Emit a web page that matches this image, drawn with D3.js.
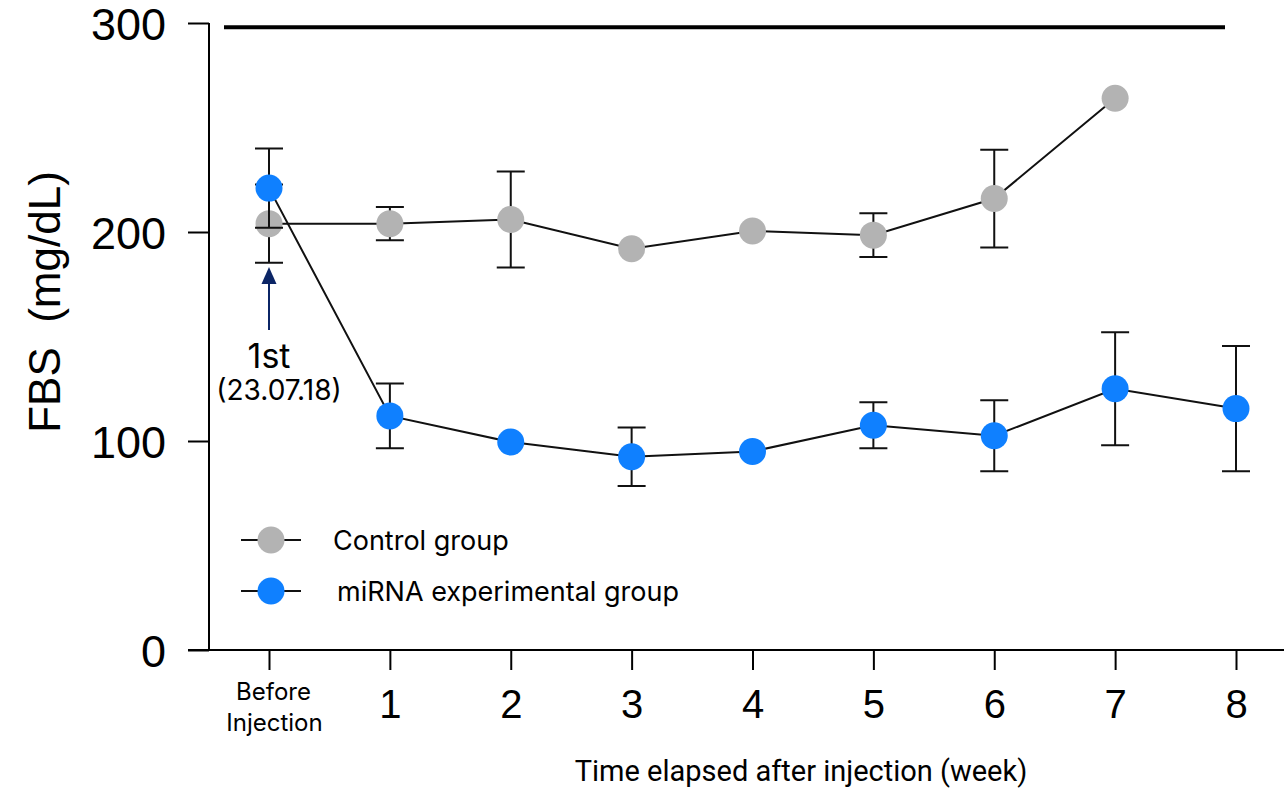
<!DOCTYPE html>
<html>
<head>
<meta charset="utf-8">
<script src="https://cdn.jsdelivr.net/npm/d3@7"></script>
<style>
  body { margin: 0; background: #fff; }
</style>
</head>
<body>
<div id="chart"></div>
<script>
// chart data
var weeks = ["Before", "1", "2", "3", "4", "5", "6", "7", "8"];
var controlMean = [204, 204, 206, 192, 200.5, 198.5, 216, 264, null];
var controlSD   = [18.7, 8, 23, 0, 0, 10.5, 23.4, 0, null];
var mirnaMean   = [221, 112, 99.5, 92.5, 95, 107.5, 102.5, 125, 115.5];
var mirnaSD     = [19, 15.5, 0, 14, 0, 11, 17, 27, 30];
var yTicks = [0, 100, 200, 300];
var seriesNames = ["Control group", "miRNA experimental group"];
var seriesColors = ["#b3b3b3", "#0f80ff"];

function init(){

    var w = 1284;
    var h = 788;

    var svg = d3.select("#chart")
        .append("svg")
        .attr("width", w)
        .attr("height", h);

    // scales
    var x = d3.scalePoint()
        .domain(weeks)
        .range([269, 1236]);

    var y = d3.scaleLinear()
        .domain([0, 300])
        .range([650, 23]);

    // y axis
    var yAxis = svg.append("g")
        .attr("transform", "translate(209,0)")
        .call(d3.axisLeft(y).tickValues(yTicks).tickSize(21).tickPadding(22));
    yAxis.select(".domain").attr("d", "M0," + y(300) + "V" + y(0)).attr("stroke-width", 2);
    yAxis.selectAll(".tick line").attr("stroke-width", 2);
    yAxis.selectAll(".tick text")
        .attr("font-family", "Liberation Sans, Arial, sans-serif")
        .attr("font-size", "45px")
        .attr("fill", "#000")
        .attr("dy", "0.36em");

    // x axis
    var xAxis = svg.append("g")
        .attr("transform", "translate(0,650)")
        .call(d3.axisBottom(x).tickSize(20).tickPadding(12));
    xAxis.select(".domain").attr("d", "M188,0H1284").attr("stroke-width", 2);
    xAxis.selectAll(".tick line").attr("stroke-width", 2);
    xAxis.selectAll(".tick text")
        .attr("font-family", "Liberation Sans, Arial, sans-serif")
        .attr("font-size", "40px")
        .attr("fill", "#000")
        .attr("dy", "0.9em");

    // first tick gets a two-line label
    var firstLabel = xAxis.selectAll(".tick text").filter(function(d){ return d === "Before"; });
    firstLabel.text(null)
        .attr("font-family", "Inter, Roboto, sans-serif")
        .attr("font-size", "24px")
        .attr("dy", null)
        .attr("y", 50);
    firstLabel.append("tspan").attr("x", 4).attr("dy", 0).text("Before");
    firstLabel.append("tspan").attr("x", 5).attr("dy", 31).text("Injection");

    // thick line across the top
    svg.append("line")
        .attr("x1", 224)
        .attr("x2", 1225)
        .attr("y1", y(298))
        .attr("y2", y(298))
        .attr("stroke", "#000")
        .attr("stroke-width", 4);

    // axis titles
    svg.append("text")
        .attr("transform", "translate(60,302) rotate(-90)")
        .attr("text-anchor", "middle")
        .attr("font-family", "Liberation Sans, Arial, sans-serif")
        .attr("font-size", "44px")
        .attr("fill", "#000")
        .attr("xml:space", "preserve")
        .text("FBS  (mg/dL)");

    svg.append("text")
        .attr("x", 801)
        .attr("y", 781)
        .attr("text-anchor", "middle")
        .attr("font-family", "Roboto, sans-serif")
        .attr("font-size", "29px")
        .attr("fill", "#000")
        .text("Time elapsed after injection (week)");

    // annotation arrow for first injection
    var ax = x("Before");
    svg.append("line")
        .attr("x1", ax)
        .attr("x2", ax)
        .attr("y1", 330)
        .attr("y2", 282)
        .attr("stroke", "#0b2566")
        .attr("stroke-width", 2);
    svg.append("path")
        .attr("d", "M" + (ax - 7.5) + ",284L" + ax + ",267L" + (ax + 7.5) + ",284Z")
        .attr("fill", "#0b2566");

    svg.append("text")
        .attr("x", ax)
        .attr("y", 368)
        .attr("text-anchor", "middle")
        .attr("font-family", "Inter, Roboto, sans-serif")
        .attr("font-size", "34px")
        .attr("fill", "#000")
        .text("1st");
    svg.append("text")
        .attr("x", 279)
        .attr("y", 400)
        .attr("text-anchor", "middle")
        .attr("font-family", "Inter, Roboto, sans-serif")
        .attr("font-size", "28px")
        .attr("fill", "#000")
        .text("(23.07.18)");

    // series
    var series = [
        { name: seriesNames[0], color: seriesColors[0], mean: controlMean, sd: controlSD },
        { name: seriesNames[1], color: seriesColors[1], mean: mirnaMean, sd: mirnaSD }
    ];

    series.forEach(function(s){
        var pts = weeks.map(function(wk, i){
            return { week: wk, mean: s.mean[i], sd: s.sd[i] };
        }).filter(function(d){ return d.mean !== null; });

        var g = svg.append("g");

        // error bars
        var eb = pts.filter(function(d){ return d.sd > 0; });
        g.selectAll(".eb")
            .data(eb)
            .enter()
            .append("path")
            .attr("d", function(d){
                var cx = x(d.week);
                var t = y(d.mean + d.sd);
                var b = y(d.mean - d.sd);
                return "M" + cx + "," + t + "V" + b +
                    "M" + (cx - 14) + "," + t + "H" + (cx + 14) +
                    "M" + (cx - 14) + "," + b + "H" + (cx + 14);
            })
            .attr("fill", "none")
            .attr("stroke", "#111")
            .attr("stroke-width", 2);

        // connecting line
        g.append("path")
            .datum(pts)
            .attr("d", d3.line()
                .x(function(d){ return x(d.week); })
                .y(function(d){ return y(d.mean); }))
            .attr("fill", "none")
            .attr("stroke", "#111")
            .attr("stroke-width", 2);

        // points
        g.selectAll("circle")
            .data(pts)
            .enter()
            .append("circle")
            .attr("cx", function(d){ return x(d.week); })
            .attr("cy", function(d){ return y(d.mean); })
            .attr("r", 13.5)
            .attr("fill", s.color);
    });

    // legend
    var legend = svg.append("g");
    var legendY = [540, 591];
    series.forEach(function(s, i){
        legend.append("line")
            .attr("x1", 241)
            .attr("x2", 301)
            .attr("y1", legendY[i])
            .attr("y2", legendY[i])
            .attr("stroke", "#111")
            .attr("stroke-width", 2);
        legend.append("circle")
            .attr("cx", 271)
            .attr("cy", legendY[i])
            .attr("r", 13.5)
            .attr("fill", s.color);
        legend.append("text")
            .attr("x", i === 0 ? 333 : 337)
            .attr("y", legendY[i] + 10)
            .attr("font-family", "Inter, Roboto, sans-serif")
            .attr("font-size", "27px")
            .attr("fill", "#000")
            .text(s.name);
    });
}

window.onload = init;
</script>
</body>
</html>
